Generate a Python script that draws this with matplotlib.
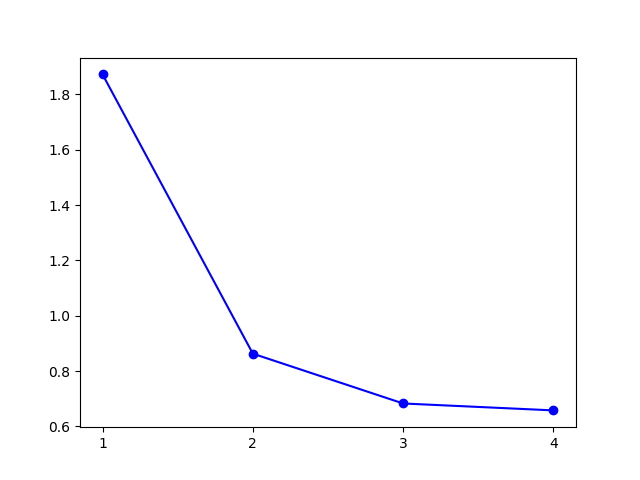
import matplotlib
matplotlib.use("Agg")
import matplotlib.pyplot as plt

# values
x_vals = [1, 2, 3, 4]
y_vals = [1.872, 0.863, 0.683, 0.658]

fig, ax = plt.subplots(figsize=(6.4, 4.8), dpi=100)
ax.plot(x_vals, y_vals, 'bo-')
ax.set_xticks(x_vals)

plt.savefig('out.png')
